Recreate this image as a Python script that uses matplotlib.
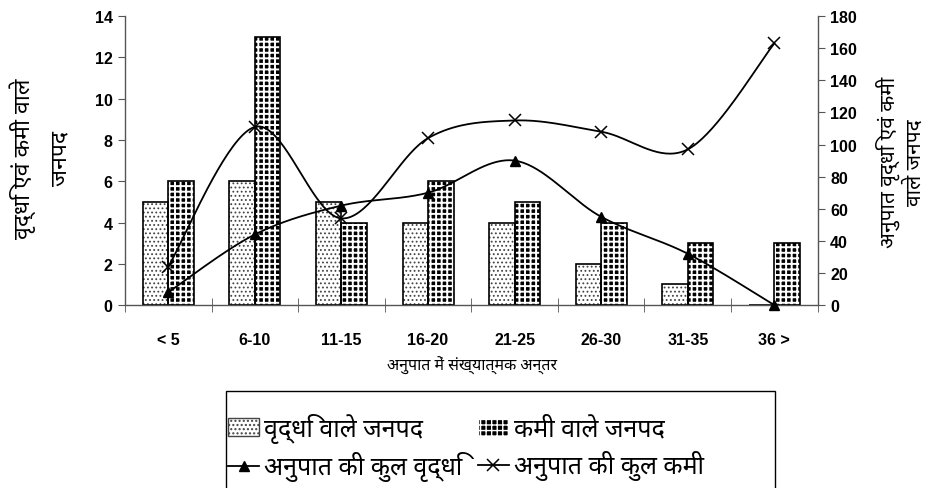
import numpy as np
import matplotlib
matplotlib.use("Agg")
import matplotlib.pyplot as plt
from matplotlib import font_manager
from matplotlib.lines import Line2D
from matplotlib.patches import Patch, Rectangle

# ---- data ----
categories = ["< 5", "6-10", "11-15", "16-20", "21-25", "26-30", "31-35", "36 >"]
districts_growth = [5, 6, 5, 4, 4, 2, 1, 0]
districts_decline = [6, 13, 4, 6, 5, 4, 3, 3]
ratio_total_growth = [8, 44, 62, 70, 90, 55, 32, 0]
ratio_total_decline = [24, 111, 54, 104, 115, 108, 97, 163]

left_ticks = [0, 2, 4, 6, 8, 10, 12, 14]
right_ticks = [0, 20, 40, 60, 80, 100, 120, 140, 160, 180]

# Devanagari-capable family for the Hindi labels
installed = {f.name for f in font_manager.fontManager.ttflist}
deva = next((n for n in ["Noto Sans Devanagari", "Hind", "Mukta", "Noto Sans"]
             if n in installed), None)
text_fams = ([deva] if deva else []) + ["Liberation Sans", "DejaVu Sans"]
plt.rcParams["font.family"] = ["Liberation Sans", "DejaVu Sans"]


def smooth(x, y, n=40):
    """Piecewise cubic Bezier through the points (Catmull-Rom style)."""
    pts = np.column_stack([np.asarray(x, float), np.asarray(y, float)])
    out = []
    for i in range(len(pts) - 1):
        p0 = pts[i - 1] if i > 0 else pts[i]
        p1 = pts[i]
        p2 = pts[i + 1]
        p3 = pts[i + 2] if i + 2 < len(pts) else pts[i + 1]
        c1 = p1 + (p2 - p0) / 6.0
        c2 = p2 - (p3 - p1) / 6.0
        t = np.linspace(0, 1, n)[:, None]
        seg = ((1 - t) ** 3) * p1 + 3 * ((1 - t) ** 2) * t * c1 \
            + 3 * (1 - t) * t ** 2 * c2 + t ** 3 * p2
        out.append(seg if i == 0 else seg[1:])
    seg = np.vstack(out)
    return seg[:, 0], seg[:, 1]


fig = plt.figure(figsize=(9.26, 4.89), dpi=100)
ax = fig.add_axes([0.135, 0.374, 0.748, 0.591])
ax2 = ax.twinx()

xs = np.arange(len(categories))
bw = 0.295

LIGHT_HATCH = dict(hatch="....", lw=0.8)
DARK_HATCH = dict(hatch="+++", lw=1.4)

# light dotted bars
with plt.rc_context({"hatch.linewidth": LIGHT_HATCH["lw"]}):
    ax.bar(xs - bw / 2, districts_growth, bw, facecolor="white",
           edgecolor="#444444", hatch=LIGHT_HATCH["hatch"], linewidth=0,
           zorder=2)
ax.bar(xs - bw / 2, districts_growth, bw, facecolor="none",
       edgecolor="black", linewidth=1.2, zorder=2.5)

# dark chequered bars: black fill cut by a white grid
with plt.rc_context({"hatch.linewidth": DARK_HATCH["lw"]}):
    ax.bar(xs + bw / 2, districts_decline, bw, facecolor="black",
           edgecolor="white", hatch=DARK_HATCH["hatch"], linewidth=0,
           zorder=2)
ax.bar(xs + bw / 2, districts_decline, bw, facecolor="none",
       edgecolor="black", linewidth=1.2, zorder=2.5)

gx, gy = smooth(xs, ratio_total_growth)
dx, dy = smooth(xs, ratio_total_decline)
ax2.plot(gx, gy, color="black", lw=1.3, zorder=3)
ax2.plot(xs, ratio_total_growth, ls="none", marker="^", ms=7,
         color="black", zorder=4, clip_on=False)
ax2.plot(dx, dy, color="black", lw=1.3, zorder=3)
ax2.plot(xs, ratio_total_decline, ls="none", marker="x", ms=9, mew=1.1,
         color="black", zorder=4, clip_on=False)

ax.set_xlim(-0.5, len(categories) - 0.5)
ax.set_ylim(0, 14)
ax2.set_ylim(0, 180)

ax.set_yticks(left_ticks)
ax2.set_yticks(right_ticks)
ax.set_xticks(xs)
ax.set_xticklabels(categories)
ax.set_xticks(np.arange(len(categories) + 1) - 0.5, minor=True)

for a in (ax, ax2):
    a.spines["top"].set_visible(False)
    for s in a.spines.values():
        s.set_color("#555555")
        s.set_linewidth(1.0)
ax.spines["right"].set_visible(False)
ax2.spines["left"].set_visible(False)
ax2.spines["bottom"].set_visible(False)

ax.tick_params(axis="x", which="major", length=0, pad=19, labelsize=11.5)
ax.tick_params(axis="x", which="minor", length=10, direction="inout",
               color="#555555")
ax.tick_params(axis="y", length=5, direction="out", color="#555555",
               labelsize=11.5, pad=4)
ax2.tick_params(axis="y", length=5, direction="out", color="#555555",
                labelsize=11.5, pad=4)
for lab in ax.get_xticklabels() + ax.get_yticklabels() + ax2.get_yticklabels():
    lab.set_fontweight("bold")

fig.text(0.044, 0.675, "वृद्धि एवं कमी वाले\nजनपद", rotation=90,
         ha="center", va="center", fontsize=16.5, family=text_fams,
         linespacing=1.7, multialignment="center")
fig.text(0.973, 0.667, "अनुपात वृद्धि एवं कमी\nवाले जनपद", rotation=90,
         ha="center", va="center", fontsize=15, family=text_fams,
         linespacing=1.3, multialignment="center")
fig.text(0.51, 0.251, "अनुपात में संख्यात्मक अन्तर", ha="center",
         va="center", fontsize=11.5, fontweight="bold", family=text_fams)

# legend box (open at the bottom edge of the figure)
fig.patches.append(Rectangle((226 / 926, -0.05), (775 - 226) / 926,
                             1 - 392 / 489 + 0.05, transform=fig.transFigure,
                             facecolor="white", edgecolor="black",
                             linewidth=1.0, zorder=0))

with plt.rc_context({"hatch.linewidth": LIGHT_HATCH["lw"]}):
    h_bar1 = Patch(facecolor="white", edgecolor="#444444",
                   hatch=LIGHT_HATCH["hatch"], label="वृद्धि वाले जनपद")
with plt.rc_context({"hatch.linewidth": DARK_HATCH["lw"]}):
    h_bar2 = Patch(facecolor="black", edgecolor="white",
                   hatch=DARK_HATCH["hatch"], label="कमी वाले जनपद")
h_line1 = Line2D([], [], color="black", marker="^", ms=7, lw=1.3,
                 label="अनुपात की कुल वृद्धि")
h_line2 = Line2D([], [], color="black", marker="x", ms=9, mew=1.1, lw=1.3,
                 label="अनुपात की कुल कमी")

leg = fig.legend(handles=[h_bar1, h_line1, h_bar2, h_line2], ncol=2,
                 loc="upper left", bbox_to_anchor=(228 / 926, 0.154),
                 frameon=False,
                 prop={"family": text_fams, "size": 18},
                 handlelength=1.25, handleheight=0.75, handletextpad=0.2,
                 columnspacing=0.6, borderpad=0.0, labelspacing=0.35,
                 borderaxespad=0)

fig.savefig("out.png", dpi=100)
